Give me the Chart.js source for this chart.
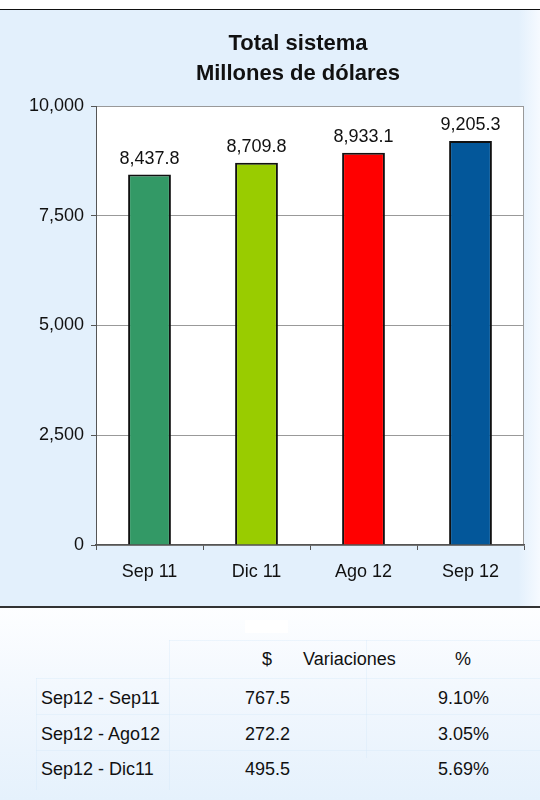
<!DOCTYPE html>
<html>
<head>
<meta charset="utf-8">
<script src="https://cdn.jsdelivr.net/npm/chart.js@4.4.1/dist/chart.umd.min.js"></script>
<style>
  html, body { margin: 0; padding: 0; }
  body { width: 540px; height: 800px; position: relative; overflow: hidden; background: #fff;
         font-family: 'Liberation Sans', Arial, sans-serif; }
  #topLine { position: absolute; left: 0; top: 9px; width: 540px; height: 1px; background: #111; }
  #chartBox { position: absolute; left: 0; top: 10px; width: 540px; height: 596px;
              background: linear-gradient(to right, #E3F0FC 0%, #E3F0FC 96%, #F6FAFF 100%); }
  #bottomLine { position: absolute; left: 0; top: 606px; width: 540px; height: 2px; background: #333; }
  #tableBox { position: absolute; left: 0; top: 608px; width: 540px; height: 192px;
              background: linear-gradient(to bottom, #FDFEFF 0%, #F3F8FE 40%, #E5F1FC 100%); }
  .t { position: absolute; font-size: 18px; line-height: 20px; color: #111; white-space: nowrap; }
  .ln { position: absolute; background: rgba(205, 228, 248, 0.3); }
</style>
</head>
<body>
<div id="topLine"></div>
<div id="chartBox"><canvas id="myChart" width="540" height="596"></canvas></div>
<div id="bottomLine"></div>
<div id="tableBox"></div>
<script>
// datos del grafico
const periodos = ['Sep 11', 'Dic 11', 'Ago 12', 'Sep 12']
const saldos = [8437.8, 8709.8, 8933.1, 9205.3]
const colores = ['#339966', '#99CC00', '#FF0000', '#03579A']
const tituloLineas = ['Total sistema', 'Millones de dólares']

// tabla de variaciones
const encabezados = ['$', 'Variaciones', '%']
const comparaciones = ['Sep12 - Sep11', 'Sep12 - Ago12', 'Sep12 - Dic11']
const variacionDolares = ['767.5', '272.2', '495.5']
const variacionPct = ['9.10%', '3.05%', '5.69%']

const fuente = "'Liberation Sans', Arial, sans-serif"

// fondo blanco del area de trazado y borde derecho
const fondoPlot = {
  id: 'fondoPlot',
  afterLayout: (chart) => {
    // el titulo va un poco corrido a la derecha, como en el original
    chart.titleBlock.left = 72
  },
  beforeDraw: (chart) => {
    const { ctx, chartArea: a } = chart
    ctx.save()
    ctx.fillStyle = '#ffffff'
    ctx.fillRect(a.left, a.top, a.right - a.left, a.bottom - a.top)
    ctx.strokeStyle = '#999'
    ctx.lineWidth = 1
    ctx.beginPath()
    ctx.moveTo(a.right - 0.5, a.top)
    ctx.lineTo(a.right - 0.5, a.bottom)
    ctx.stroke()
    ctx.restore()
  }
}

// etiquetas de valor sobre cada barra
const etiquetas = {
  id: 'etiquetas',
  afterDatasetsDraw: (chart) => {
    const { ctx } = chart
    const meta = chart.getDatasetMeta(0)
    ctx.save()
    ctx.font = '18px ' + fuente
    ctx.fillStyle = '#111'
    ctx.textAlign = 'center'
    ctx.textBaseline = 'alphabetic'
    meta.data.forEach((bar, i) => {
      let v = chart.data.datasets[0].data[i]
      let txt = v.toLocaleString('en-US', { minimumFractionDigits: 1, maximumFractionDigits: 1 })
      ctx.fillText(txt, bar.x, bar.y - 11)
    })
    ctx.restore()
  }
}

var ctx = document.getElementById('myChart').getContext('2d')

var myChart = new Chart(ctx, {
  type: 'bar',
  data: {
    labels: periodos,
    datasets: [{
      data: saldos,
      backgroundColor: colores,
      borderColor: '#111',
      borderWidth: 2,
      barPercentage: 0.4,
      categoryPercentage: 1
    }]
  },
  plugins: [fondoPlot, etiquetas],
  options: {
    responsive: false,
    animation: false,
    locale: 'en-US',
    layout: { padding: { left: 0, right: 16, top: 8, bottom: 0 } },
    plugins: {
      legend: { display: false },
      tooltip: { enabled: false },
      title: {
        display: true,
        text: tituloLineas,
        color: '#111',
        font: { family: fuente, size: 22, weight: 'bold', lineHeight: 30 / 22 },
        padding: { top: 11, bottom: 17 }
      }
    },
    scales: {
      y: {
        min: 0,
        max: 10000,
        afterFit: (s) => { s.width = 96 },
        ticks: {
          stepSize: 2500,
          color: '#111',
          padding: 7,
          font: { family: fuente, size: 18 }
        },
        grid: { color: '#999', lineWidth: 1, tickLength: 5, tickColor: '#555' },
        border: { color: '#555', width: 1 }
      },
      x: {
        afterFit: (s) => { s.height = 61 },
        ticks: {
          color: '#111',
          padding: 11,
          font: { family: fuente, size: 18 }
        },
        grid: { drawOnChartArea: false, tickLength: 5, tickColor: '#555' },
        border: { color: '#555', width: 1.5 }
      }
    }
  }
})

// armado de la tabla de variaciones
const caja = document.getElementById('tableBox')
const y0 = 608
function linea(x, y, w, h) {
  let d = document.createElement('div')
  d.className = 'ln'
  d.style.left = x + 'px'; d.style.top = (y - y0) + 'px'
  d.style.width = w + 'px'; d.style.height = h + 'px'
  caja.appendChild(d)
}
function texto(s, x, base, alinear) {
  let d = document.createElement('div')
  d.className = 't'
  d.textContent = s
  d.style.top = (base - 16 - y0) + 'px'
  if (alinear == 'right') d.style.right = (540 - x) + 'px'
  else if (alinear == 'center') { d.style.left = (x - 60) + 'px'; d.style.width = '120px'; d.style.textAlign = 'center' }
  else d.style.left = x + 'px'
  caja.appendChild(d)
}

// parche blanco sobre la tabla
let parche = document.createElement('div')
parche.style.cssText = 'position:absolute;left:245px;top:12px;width:43px;height:13px;background:#fff'
caja.appendChild(parche)

linea(169, 640, 371, 1)
linea(36, 678, 504, 1)
linea(36, 714, 504, 1)
linea(36, 750, 504, 1)
linea(169, 640, 1, 150)
linea(366, 640, 1, 118)
linea(36, 678, 1, 112)

texto(encabezados[0], 267, 665, 'center')
texto(encabezados[1], 303, 665, 'left')
texto(encabezados[2], 463, 665, 'center')

const bases = [704, 740, 775]
for (let i = 0; i < comparaciones.length; i++) {
  texto(comparaciones[i], 41, bases[i], 'left')
  texto(variacionDolares[i], 290, bases[i], 'right')
  texto(variacionPct[i], 489, bases[i], 'right')
}
</script>
</body>
</html>
